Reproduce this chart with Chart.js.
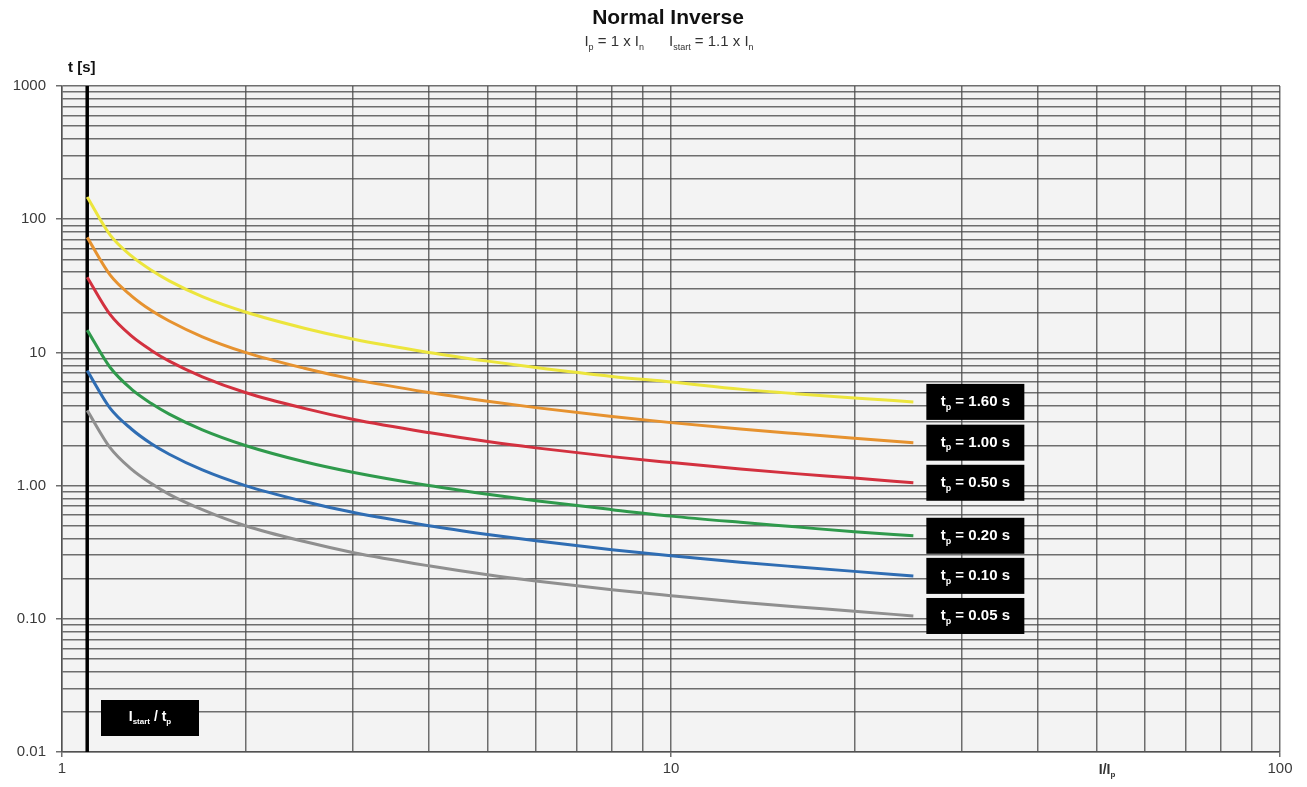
<!DOCTYPE html>
<html>
<head>
<meta charset="utf-8">
<script src="https://cdn.jsdelivr.net/npm/chart.js@4/dist/chart.umd.min.js"></script>
<style>html,body{margin:0;background:#fff}</style>
</head>
<body>
<canvas id="c" width="1307" height="787"></canvas>
<script>
// data (I/Ip vs t in s)
var currents = [1.1, 1.2, 1.3, 1.4, 1.5, 1.7, 2, 2.5, 3, 4, 5, 6, 8, 10, 13, 16, 20, 25];
var t160 = [147, 76, 53, 41.5, 34.4, 26.2, 20.1, 15.2, 12.6, 10.0, 8.6, 7.7, 6.6, 6.0, 5.3, 4.9, 4.55, 4.25];
var t100 = [73, 38, 26.6, 20.7, 17.2, 13.1, 10.0, 7.6, 6.3, 5.0, 4.3, 3.85, 3.3, 2.97, 2.66, 2.46, 2.27, 2.1];
var t050 = [36.7, 19.2, 13.3, 10.4, 8.6, 6.56, 5.0, 3.8, 3.15, 2.5, 2.14, 1.92, 1.65, 1.49, 1.33, 1.23, 1.14, 1.05];
var t020 = [14.7, 7.7, 5.3, 4.15, 3.44, 2.62, 2.0, 1.51, 1.26, 1.0, 0.86, 0.77, 0.66, 0.59, 0.53, 0.49, 0.45, 0.42];
var t010 = [7.3, 3.8, 2.66, 2.07, 1.72, 1.31, 1.0, 0.76, 0.63, 0.50, 0.43, 0.385, 0.33, 0.297, 0.266, 0.246, 0.227, 0.21];
var t005 = [3.67, 1.92, 1.33, 1.04, 0.86, 0.66, 0.50, 0.38, 0.315, 0.25, 0.214, 0.192, 0.165, 0.149, 0.133, 0.123, 0.114, 0.105];

var tpLabels = ['1.60', '1.00', '0.50', '0.20', '0.10', '0.05'];
var series = [t160, t100, t050, t020, t010, t005];
var colors = ['#ece53c', '#e6922f', '#d3313f', '#2f9a4c', '#2f6db3', '#8f8f8f'];

var iStart = 1.1;
var xLabels = {1: '1', 10: '10', 100: '100'};
var yLabels = {0.01: '0.01', 0.1: '0.10', 1: '1.00', 10: '10', 100: '100', 1000: '1000'};

// log grid values 1..9 per decade
function logGrid(lo, hi) {
  var out = [];
  for (var e = lo; e < hi; e++) {
    for (var m = 1; m < 10; m++) out.push(+(m * Math.pow(10, e)).toPrecision(3));
  }
  out.push(Math.pow(10, hi));
  return out;
}
var xGrid = logGrid(0, 2);
var yGrid = logGrid(-2, 3);

function lbl(map, v) {
  for (var k in map) if (Math.abs(k - v) < 1e-9) return map[k];
  return null;
}

// draws text with subscript parts: [[text, isSub], ...]
function richText(ctx, parts, x, y, size, bold, align) {
  var f = (bold ? 'bold ' : '') + size + 'px "Liberation Sans", Arial, sans-serif';
  var fs = (bold ? 'bold ' : '') + Math.round(size * 0.6) + 'px "Liberation Sans", Arial, sans-serif';
  var w = 0;
  parts.forEach(function (p) { ctx.font = p[1] ? fs : f; w += ctx.measureText(p[0]).width; });
  var cx = align === 'center' ? x - w / 2 : x;
  ctx.textBaseline = 'middle';
  ctx.textAlign = 'left';
  parts.forEach(function (p) {
    ctx.font = p[1] ? fs : f;
    ctx.fillText(p[0], cx, p[1] ? y + size * 0.35 : y);
    cx += ctx.measureText(p[0]).width;
  });
}

var decor = {
  id: 'decor',
  beforeDraw: function (chart) {
    var a = chart.chartArea, ctx = chart.ctx;
    ctx.save();
    ctx.fillStyle = '#f3f3f3';
    ctx.fillRect(a.left, a.top, a.right - a.left, a.bottom - a.top);
    ctx.restore();
  },
  afterDatasetsDraw: function (chart) {
    var ctx = chart.ctx, xs = chart.scales.x;
    ctx.save();
    // tp boxes next to curve ends
    series.forEach(function (s, i) {
      var pts = chart.getDatasetMeta(i).data;
      var p = pts[pts.length - 1];
      var bx = p.x + 13, by = p.y - 18;
      ctx.fillStyle = '#000';
      ctx.fillRect(bx, by, 98, 36);
      ctx.fillStyle = '#fff';
      richText(ctx, [['t', false], ['p', true], [' = ' + tpLabels[i] + ' s', false]], bx + 49, p.y, 15, true, 'center');
    });
    // Istart / tp box
    ctx.fillStyle = '#000';
    ctx.fillRect(101, 700, 98, 36);
    ctx.fillStyle = '#fff';
    richText(ctx, [['I', false], ['start', true], [' / t', false], ['p', true]], 150, 717, 14, true, 'center');

    // titles
    ctx.fillStyle = '#111';
    ctx.font = 'bold 21px "Liberation Sans", Arial, sans-serif';
    ctx.textAlign = 'center';
    ctx.textBaseline = 'middle';
    ctx.fillText('Normal Inverse', 668, 18);
    ctx.fillStyle = '#333';
    richText(ctx, [['I', false], ['p', true], [' = 1 x I', false], ['n', true], ['      I', false], ['start', true], [' = 1.1 x I', false], ['n', true]], 669, 42, 15, false, 'center');
    ctx.fillStyle = '#111';
    ctx.font = 'bold 15px "Liberation Sans", Arial, sans-serif';
    ctx.textAlign = 'left';
    ctx.fillText('t [s]', 68, 68);
    // x axis name
    ctx.fillStyle = '#333';
    richText(ctx, [['I/I', false], ['p', true]], xs.getPixelForValue(52), 770, 14, true, 'center');
    ctx.restore();
  }
};

var datasets = series.map(function (s, i) {
  return {
    data: currents.map(function (c, j) { return {x: c, y: s[j]}; }),
    borderColor: colors[i],
    borderWidth: 3,
    pointRadius: 0,
    showLine: true,
    cubicInterpolationMode: 'monotone'
  };
});
datasets.push({
  data: [{x: iStart, y: 0.01}, {x: iStart, y: 1000}],
  borderColor: '#000',
  borderWidth: 3.5,
  pointRadius: 0,
  showLine: true
});

var gridColor = 'rgba(75,75,75,0.8)';
var tickFont = {family: '"Liberation Sans", Arial, sans-serif', size: 15};

new Chart(document.getElementById('c'), {
  type: 'scatter',
  data: {datasets: datasets},
  options: {
    responsive: false,
    animation: false,
    layout: {padding: {top: 86, right: 27, left: 0, bottom: 0}},
    plugins: {legend: {display: false}, tooltip: {enabled: false}},
    scales: {
      x: {
        type: 'logarithmic', min: 1, max: 100,
        afterBuildTicks: function (sc) { sc.ticks = xGrid.map(function (v) { return {value: v}; }); },
        afterFit: function (sc) { sc.height = 35; },
        grid: {
          color: gridColor, lineWidth: 1.5, tickLength: 5,
          tickColor: function (c) { return c.tick && lbl(xLabels, c.tick.value) ? gridColor : 'rgba(0,0,0,0)'; }
        },
        border: {color: gridColor, width: 1.5},
        ticks: {
          autoSkip: false, maxRotation: 0, padding: 3, color: '#3a3a3a', font: tickFont,
          callback: function (v) { return lbl(xLabels, v) || ''; }
        }
      },
      y: {
        type: 'logarithmic', min: 0.01, max: 1000,
        afterBuildTicks: function (sc) { sc.ticks = yGrid.map(function (v) { return {value: v}; }); },
        afterFit: function (sc) { sc.width = 62; },
        grid: {
          color: gridColor, lineWidth: 1.5, tickLength: 6,
          tickColor: function (c) { return c.tick && lbl(yLabels, c.tick.value) ? gridColor : 'rgba(0,0,0,0)'; }
        },
        border: {color: gridColor, width: 1.5},
        ticks: {
          autoSkip: false, padding: 10, color: '#3a3a3a', font: tickFont,
          callback: function (v) { return lbl(yLabels, v) || ''; }
        }
      }
    }
  },
  plugins: [decor]
});
</script>
</body>
</html>
